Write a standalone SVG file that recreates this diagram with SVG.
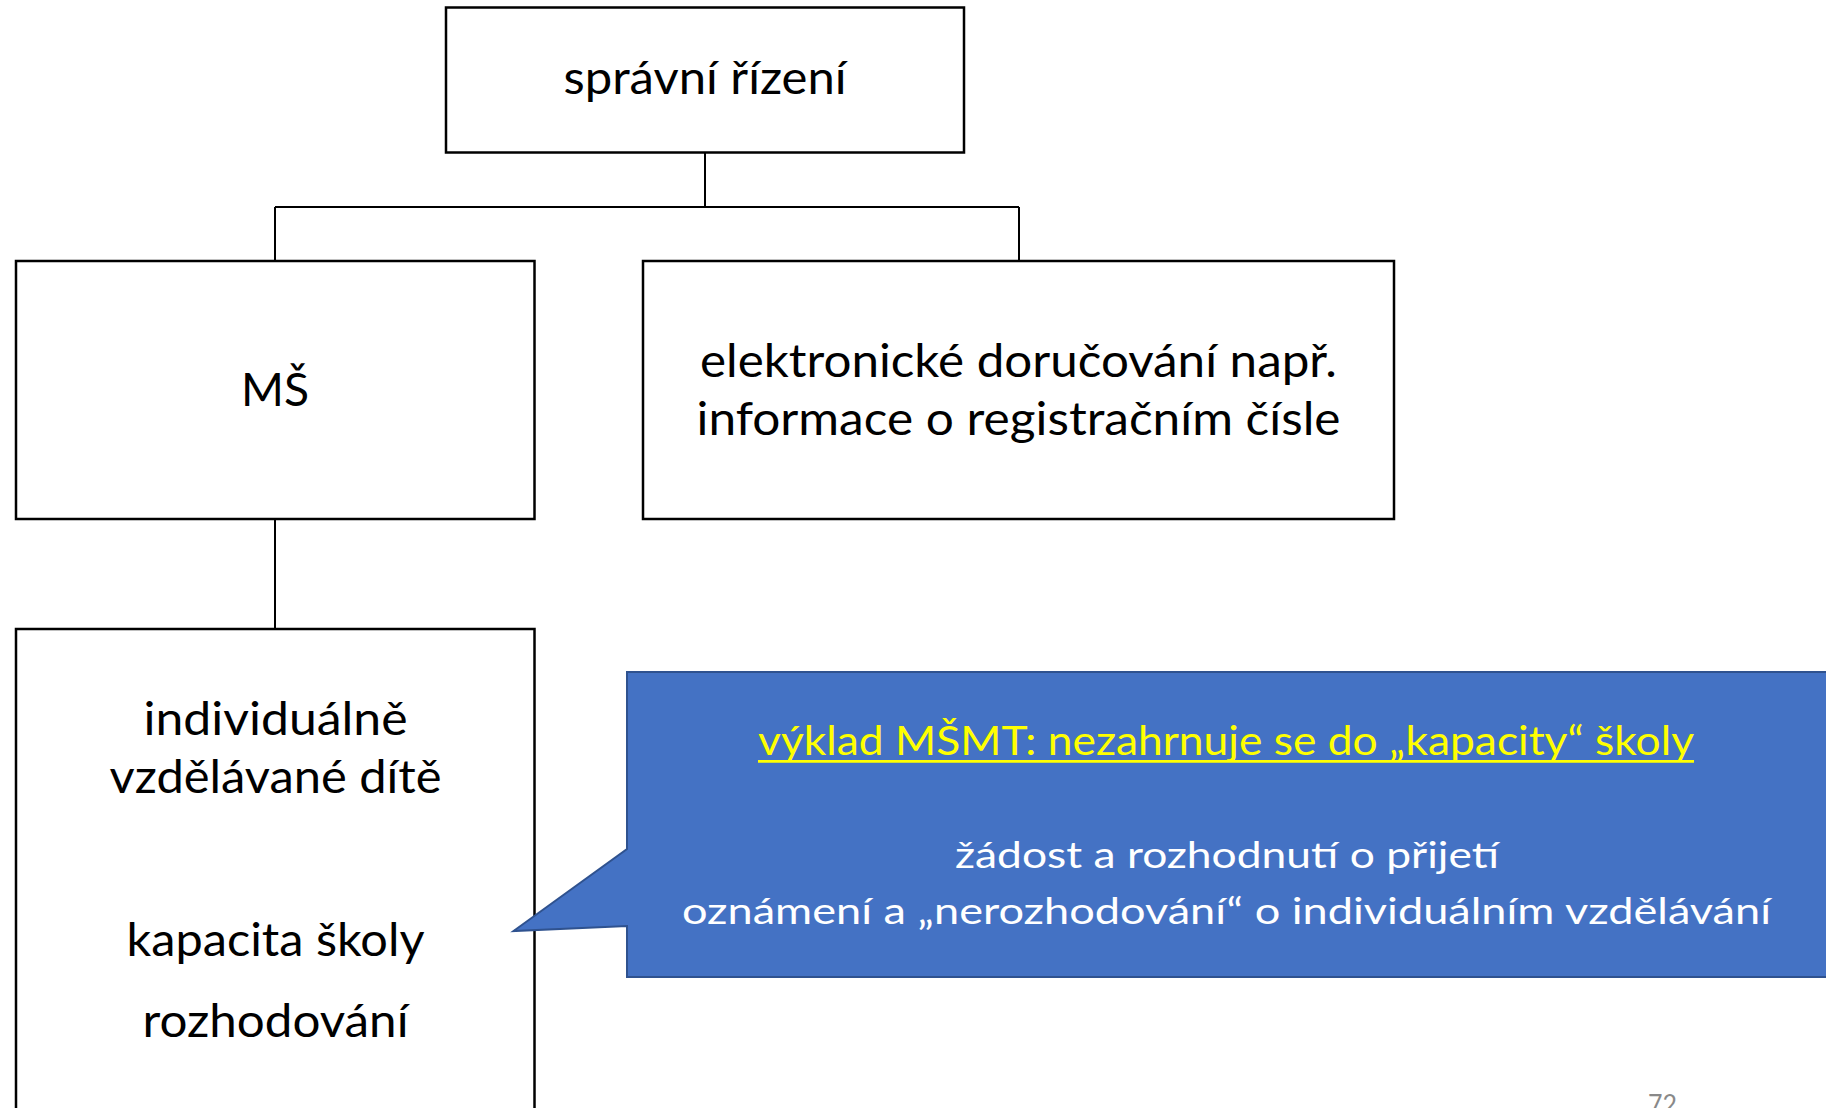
<svg xmlns="http://www.w3.org/2000/svg" width="1826" height="1108" viewBox="0 0 1826 1108">
<style>
.box{fill:#ffffff;stroke:#000000;stroke-width:2.5}
.con{fill:none;stroke:#000000;stroke-width:2}
.t{font-family:Lato,"Open Sans","Liberation Sans",sans-serif;font-size:46px;fill:#000000;text-anchor:middle}
.w{font-family:Lato,"Open Sans","Liberation Sans",sans-serif;font-size:36px;fill:#ffffff;text-anchor:middle}
.y{font-family:Lato,"Open Sans","Liberation Sans",sans-serif;font-size:41px;fill:#ffff00;text-anchor:middle}
.pg{font-family:Lato,"Open Sans","Liberation Sans",sans-serif;font-size:26px;fill:#898989}
</style>
<rect width="1826" height="1108" fill="#ffffff"/>
<g id="connectors">
<path class="con" d="M705,152.5 V207 M275,207 H1019 M275,207 V261 M1019,207 V261 M275,519 V629"/>
</g>
<g id="spravni-rizeni">
<rect class="box" x="446" y="7.5" width="518" height="145"/>
<text class="t" x="705" y="94" textLength="283" lengthAdjust="spacingAndGlyphs">správní řízení</text>
</g>
<g id="ms">
<rect class="box" x="16" y="261" width="518.5" height="258"/>
<text class="t" x="275" y="406" textLength="68" lengthAdjust="spacingAndGlyphs">MŠ</text>
</g>
<g id="elektronicke">
<rect class="box" x="643" y="261" width="751" height="258"/>
<text class="t" x="1018.5" y="376.5" textLength="637" lengthAdjust="spacingAndGlyphs">elektronické doručování např.</text>
<text class="t" x="1018.5" y="434.5" textLength="644" lengthAdjust="spacingAndGlyphs">informace o registračním čísle</text>
</g>
<g id="individualne">
<rect class="box" x="16" y="629" width="518.5" height="520"/>
<text class="t" x="275.5" y="735" textLength="264" lengthAdjust="spacingAndGlyphs">individuálně</text>
<text class="t" x="275.5" y="793" textLength="332" lengthAdjust="spacingAndGlyphs">vzdělávané dítě</text>
<text class="t" x="275.5" y="956" textLength="298" lengthAdjust="spacingAndGlyphs">kapacita školy</text>
<text class="t" x="275.5" y="1037" textLength="266" lengthAdjust="spacingAndGlyphs">rozhodování</text>
</g>
<g id="callout">
<path d="M627,672 H1832 V977 H627 V926 L513.5,931 L627,849 Z" fill="#4472C4" stroke="#2F528F" stroke-width="2"/>
<text class="y" x="1226" y="755" textLength="936" lengthAdjust="spacingAndGlyphs">výklad MŠMT: nezahrnuje se do „kapacity“ školy</text>
<line x1="758" y1="761.3" x2="1694" y2="761.3" stroke="#ffff00" stroke-width="2.7"/>
<text class="w" x="1227" y="868" textLength="544" lengthAdjust="spacingAndGlyphs">žádost a rozhodnutí o přijetí</text>
<text class="w" x="1226.5" y="923.5" textLength="1089" lengthAdjust="spacingAndGlyphs">oznámení a „nerozhodování“ o individuálním vzdělávání</text>
</g>
<text class="pg" x="1648" y="1114" textLength="29" lengthAdjust="spacingAndGlyphs">72</text>
</svg>
